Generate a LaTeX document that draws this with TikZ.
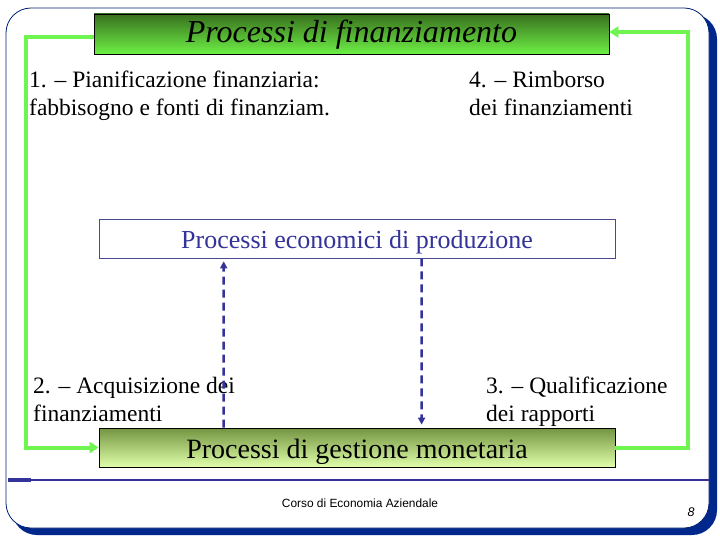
\documentclass[tikz,border=0pt]{standalone}
\usepackage{fontspec}
\setmainfont{Liberation Serif}
\newfontfamily\footfont{Liberation Sans}
\usetikzlibrary{arrows.meta,calc}
\definecolor{frameblue}{RGB}{0,40,140}
\definecolor{lineblue}{RGB}{51,51,153}
\definecolor{connGreen}{RGB}{110,245,80}
\definecolor{topdark}{RGB}{56,112,30}
\definecolor{toplight}{RGB}{110,240,70}
\definecolor{botdark}{RGB}{115,148,65}
\definecolor{botlight}{RGB}{225,255,170}
\tikzset{
  procbox/.style={draw=black, line width=0.8pt, minimum width=516pt, minimum height=39pt, inner sep=0pt, text depth=0pt},
  label/.style={anchor=base west, inner sep=0pt, font=\fontsize{23.5}{28}\selectfont},
  greenconn/.style={draw=connGreen, line width=4pt, -{Triangle[length=9pt,width=11pt]}},
  dasharrow/.style={draw=lineblue, line width=2.5pt, dash pattern=on 8pt off 5pt, -{Triangle[length=7pt,width=7pt]}}
}
\begin{document}
\begin{tikzpicture}[x=1pt,y=-1pt]
\useasboundingbox (0,0) rectangle (720,540);
\fill[white] (0,0) rectangle (720,540);
% slide frame
\fill[frameblue, rounded corners=25pt] (12,14) rectangle (717,535);
\draw[fill=white, draw=frameblue!80!black, line width=0.8pt, rounded corners=25pt] (6,8) rectangle (709,528);
\draw[lineblue, line width=1.8pt] (8,480) -- (709,480);
\draw[lineblue, line width=3.2pt] (8,480) -- (31,480);
% boxes
\node[procbox, minimum width=515pt, minimum height=40pt, text height=18pt, top color=topdark, bottom color=toplight] (pf) at (351.5,34)
  {\fontsize{32}{36}\selectfont\itshape Processi di finanziamento};
\node[procbox, draw=lineblue!70!gray, line width=0.6pt, text height=19pt, fill=white] (pe) at (357,238.5)
  {\fontsize{26}{30}\selectfont\color{lineblue}Processi economici di produzione};
\node[procbox, text height=21pt, top color=botdark, bottom color=botlight] (gm) at (357,447.5)
  {\fontsize{28}{32}\selectfont Processi di gestione monetaria};
% labels
\node[label] (l1a) at (29,88) {1. – Pianificazione finanziaria:};
\node[label] (l1b) at (29,116) {fabbisogno e fonti di finanziam.};
\node[label] (l4a) at (469,88) {4. – Rimborso};
\node[label] (l4b) at (469,116) {dei finanziamenti};
\node[label] (l2a) at (33,393) {2. – Acquisizione dei};
\node[label] (l2b) at (33,421) {finanziamenti};
\node[label] (l3a) at (486,393) {3. – Qualificazione};
\node[label] (l3b) at (486,421) {dei rapporti};
% green connectors
\draw[greenconn] ([yshift=-3pt]pf.west) -| (26,300) |- (gm.west);
\draw[greenconn] (gm.east) -| (688,200) |- ([yshift=2pt]pf.east);
% dashed arrows
\draw[dasharrow] ([xshift=125pt]gm.north west) -- ([xshift=125pt,yshift=-3pt]pe.south west);
\draw[dasharrow] ([xshift=323pt]pe.south west) -- ([xshift=323pt,yshift=3pt]gm.north west);
% footer
\node[inner sep=0pt, anchor=base, font=\footfont\fontsize{11.9}{14}\selectfont] (foot) at (360,507) {Corso di Economia Aziendale};
\node[inner sep=0pt, anchor=base, font=\footfont\itshape\fontsize{12.5}{14}\selectfont] (pg) at (691,516) {8};
\end{tikzpicture}
\end{document}
